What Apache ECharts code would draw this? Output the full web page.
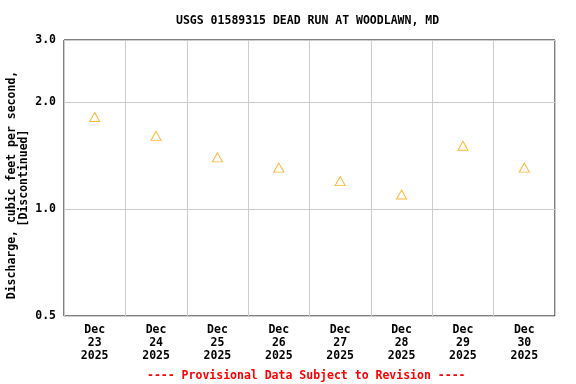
<!DOCTYPE html>
<html>
<head>
<meta charset="utf-8">
<script src="https://cdn.jsdelivr.net/npm/echarts@6/dist/echarts.min.js"></script>
<style>
html,body{margin:0;padding:0;background:#fff;}
#chart{width:576px;height:384px;}
</style>
</head>
<body>
<div id="chart"></div>
<script>
const titleText = 'USGS 01589315 DEAD RUN AT WOODLAWN, MD';
const footerText = '---- Provisional Data Subject to Revision ----';
const yAxisNameLines = ['Discharge, cubic feet per second,', '[Discontinued]'];
const categories = ['Dec\n23\n2025','Dec\n24\n2025','Dec\n25\n2025','Dec\n26\n2025','Dec\n27\n2025','Dec\n28\n2025','Dec\n29\n2025','Dec\n30\n2025'];
const discharge = [1.82, 1.61, 1.40, 1.31, 1.20, 1.10, 1.51, 1.31];
const yTicks = [0.5, 1.0, 2.0, 3.0];

const FONT = 'DejaVu Sans Mono';
const FS = 11.5;
const chart = echarts.init(document.getElementById('chart'), null, {renderer: 'canvas'});
chart.setOption({
  animation: false,
  backgroundColor: '#ffffff',
  title: [
    {text: titleText, left: 176, top: 15, padding: 0,
     textStyle: {fontFamily: FONT, fontWeight: 'bold', fontSize: FS, color: '#000'}},
    {text: footerText, left: 147, top: 370, padding: 0,
     textStyle: {fontFamily: FONT, fontWeight: 'bold', fontSize: FS, color: '#ff0000'}}
  ],
  graphic: [
    {type: 'text', x: 12, y: 185, rotation: Math.PI / 2,
     style: {text: yAxisNameLines[0], fontFamily: FONT, fontWeight: 'bold', fontSize: FS, fill: '#000', align: 'center', verticalAlign: 'middle'}},
    {type: 'text', x: 24, y: 178, rotation: Math.PI / 2,
     style: {text: yAxisNameLines[1], fontFamily: FONT, fontWeight: 'bold', fontSize: FS, fill: '#000', align: 'center', verticalAlign: 'middle'}}
  ],
  grid: {left: 64, right: 21, top: 40, bottom: 68, show: true, borderColor: '#000', borderWidth: 1,
    backgroundColor: 'transparent', containLabel: false, outerBoundsMode: 'none'},
  xAxis: {
    type: 'category',
    data: categories,
    boundaryGap: true,
    axisLine: {show: false},
    axisTick: {show: false},
    axisLabel: {fontFamily: FONT, fontWeight: 'bold', fontSize: FS, color: '#000', lineHeight: 13, margin: 8, interval: 0},
    splitLine: {show: true, lineStyle: {color: '#cccccc', width: 1}}
  },
  yAxis: {
    type: 'log',
    logBase: 10,
    min: 0.5,
    max: 3.0,
    axisLine: {show: false},
    axisTick: {show: false, customValues: yTicks},
    axisLabel: {customValues: yTicks, fontFamily: FONT, fontWeight: 'bold', fontSize: FS, color: '#000', margin: 8,
      formatter: v => Number(v).toFixed(1)},
    splitLine: {show: true, customValues: yTicks, lineStyle: {color: '#cccccc', width: 1}}
  },
  series: [{
    type: 'scatter',
    data: discharge,
    symbol: 'triangle',
    symbolSize: [10, 9],
    itemStyle: {color: '#ffffff', borderColor: '#ffa500', borderWidth: 1}
  }]
});
</script>
</body>
</html>
